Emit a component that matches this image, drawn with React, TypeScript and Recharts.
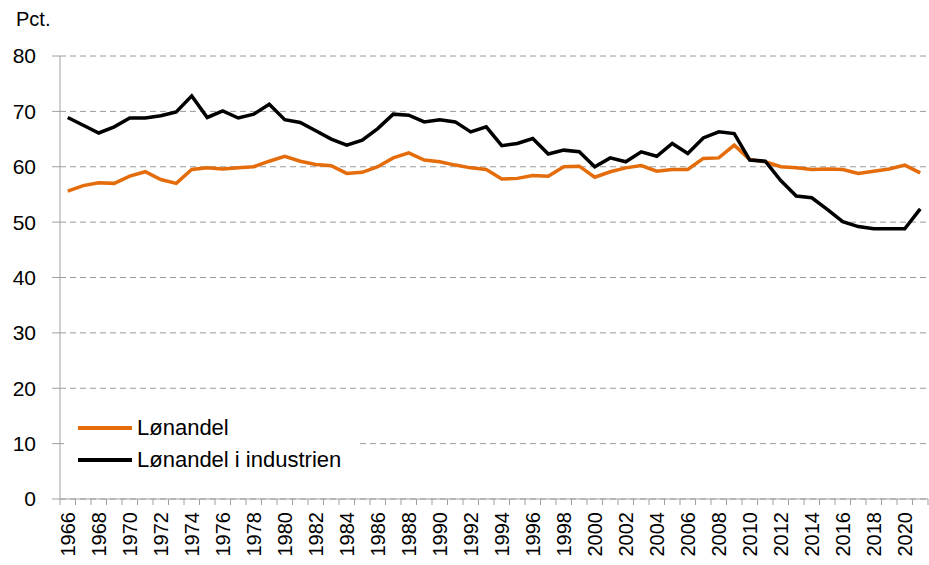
import { LineChart, Line, XAxis, YAxis, CartesianGrid } from "recharts";

// ---- Data ----
const years: string[] = [
  "1966", "1967", "1968", "1969", "1970", "1971", "1972", "1973", "1974", "1975",
  "1976", "1977", "1978", "1979", "1980", "1981", "1982", "1983", "1984", "1985",
  "1986", "1987", "1988", "1989", "1990", "1991", "1992", "1993", "1994", "1995",
  "1996", "1997", "1998", "1999", "2000", "2001", "2002", "2003", "2004", "2005",
  "2006", "2007", "2008", "2009", "2010", "2011", "2012", "2013", "2014", "2015",
  "2016", "2017", "2018", "2019", "2020", "2021",
];

// Lønandel (orange)
const lonandel: number[] = [
  55.6, 56.6, 57.1, 57.0, 58.3, 59.1, 57.7, 57.0, 59.5, 59.8,
  59.6, 59.8, 60.0, 61.0, 61.9, 61.0, 60.4, 60.2, 58.8, 59.0,
  60.0, 61.6, 62.5, 61.2, 60.9, 60.3, 59.8, 59.5, 57.8, 57.9,
  58.4, 58.3, 60.0, 60.1, 58.1, 59.1, 59.8, 60.2, 59.2, 59.5,
  59.5, 61.5, 61.6, 63.9, 61.3, 60.9, 60.0, 59.8, 59.5, 59.6,
  59.5, 58.8, 59.2, 59.6, 60.3, 58.9,
];

// Lønandel i industrien (black)
const industri: number[] = [
  68.9, 67.5, 66.1, 67.2, 68.8, 68.8, 69.2, 69.9, 72.8, 68.9,
  70.1, 68.8, 69.5, 71.3, 68.5, 68.0, 66.5, 65.0, 63.9, 64.8,
  66.9, 69.5, 69.3, 68.1, 68.5, 68.1, 66.3, 67.2, 63.8, 64.2,
  65.1, 62.3, 63.0, 62.7, 60.0, 61.6, 60.9, 62.7, 61.9, 64.2,
  62.4, 65.2, 66.3, 66.0, 61.2, 61.0, 57.5, 54.7, 54.4, 52.3,
  50.1, 49.2, 48.8, 48.8, 48.8, 52.4,
];

const yTicks: number[] = [0, 10, 20, 30, 40, 50, 60, 70, 80];

const ORANGE = "#E46C0A";
const BLACK = "#000000";
const AXIS_GREY = "#A0A0A0";
const GRID_GREY = "#9A9A9A";
const FONT = "'Liberation Sans', Arial, sans-serif";

const data = years.map((year, i) => ({
  year,
  lonandel: lonandel[i],
  industri: industri[i],
}));

// Excel-style category tick: marks between categories, label on every other year
function YearTick(props: any) {
  const { x, y, payload, index } = props;
  const half = payload && payload.offset ? payload.offset : 7.75;
  const showLabel = Number(payload.value) % 2 === 0;
  return (
    <g>
      <line x1={x - half} x2={x - half} y1={y} y2={y + 6} stroke={AXIS_GREY} />
      {index === years.length - 1 && (
        <line x1={x + half} x2={x + half} y1={y} y2={y + 6} stroke={AXIS_GREY} />
      )}
      {showLabel && (
        <text
          transform={`translate(${x},${y + 13}) rotate(-90)`}
          textAnchor="end"
          dominantBaseline="central"
          fontSize={20}
          fontFamily={FONT}
          fill="#000"
        >
          {payload.value}
        </text>
      )}
    </g>
  );
}

export default function App() {
  return (
    <div
      style={{
        position: "absolute",
        left: 0,
        top: 0,
        width: 929,
        height: 565,
        background: "#fff",
        fontFamily: FONT,
      }}
    >
      <div
        style={{
          position: "absolute",
          left: 16,
          top: 9,
          fontSize: 20,
          lineHeight: "20px",
          color: "#000",
        }}
      >
        Pct.
      </div>

      <LineChart
        width={929}
        height={565}
        data={data}
        margin={{ top: 56, right: 1, left: 0, bottom: 0 }}
      >
        <CartesianGrid vertical={false} stroke={GRID_GREY} strokeDasharray="6 4" />
        <XAxis
          dataKey="year"
          scale="band"
          interval={0}
          height={66}
          tickSize={0}
          tickMargin={0}
          tickLine={false}
          axisLine={{ stroke: AXIS_GREY }}
          tick={<YearTick />}
        />
        <YAxis
          domain={[0, 80]}
          ticks={yTicks}
          width={60}
          tickSize={8}
          tickMargin={16}
          axisLine={{ stroke: AXIS_GREY }}
          tickLine={{ stroke: AXIS_GREY }}
          tick={{ fontSize: 21, fill: "#000", fontFamily: FONT }}
          interval={0}
        />
        <Line
          dataKey="lonandel"
          stroke={ORANGE}
          strokeWidth={3.5}
          dot={false}
          isAnimationActive={false}
        />
        <Line
          dataKey="industri"
          stroke={BLACK}
          strokeWidth={3.5}
          dot={false}
          isAnimationActive={false}
        />
      </LineChart>

      {/* Legend */}
      <div
        style={{
          position: "absolute",
          left: 64,
          top: 408,
          width: 292,
          height: 68,
          background: "#fff",
        }}
      >
        {[
          { label: "Lønandel", color: ORANGE, cy: 20 },
          { label: "Lønandel i industrien", color: BLACK, cy: 52 },
        ].map((s) => (
          <div key={s.label}>
            <span
              style={{
                position: "absolute",
                left: 14,
                top: s.cy - 1.75,
                width: 54,
                height: 3.5,
                background: s.color,
              }}
            />
            <span
              style={{
                position: "absolute",
                left: 73,
                top: s.cy - 13,
                fontSize: 22,
                lineHeight: "26px",
                color: "#000",
                whiteSpace: "nowrap",
              }}
            >
              {s.label}
            </span>
          </div>
        ))}
      </div>
    </div>
  );
}
